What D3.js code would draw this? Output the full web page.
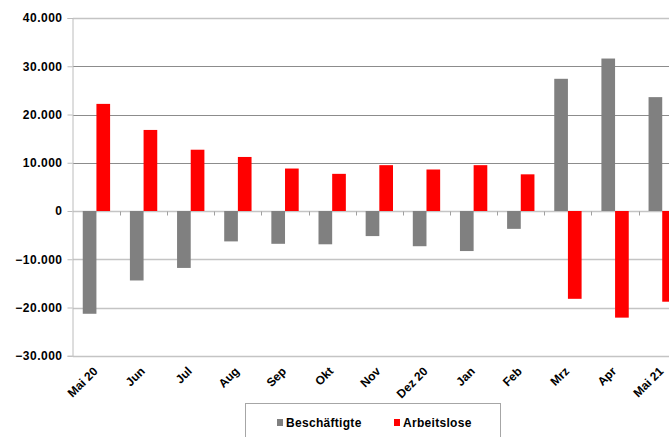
<!DOCTYPE html>
<html>
<head>
<meta charset="utf-8">
<script src="https://cdn.jsdelivr.net/npm/d3@7"></script>
<style>
  body { margin: 0; background: #fff; }
  text { font-family: Arial, "Liberation Sans", sans-serif; font-weight: bold; fill: #000; }
</style>
</head>
<body>
<div id="viz"></div>
<script>
const width = 669;
const height = 437;
const margin = {top: 18, left: 72.85, bottom: 355.75};
const bandStep = 47.15;

const colorEmployed = '#808080';
const colorUnemployed = '#ff0000';

// Data
const months = ['Mai 20', 'Jun', 'Jul', 'Aug', 'Sep', 'Okt', 'Nov', 'Dez 20', 'Jan', 'Feb', 'Mrz', 'Apr', 'Mai 21'];
const series = ['Beschäftigte', 'Arbeitslose'];
const employed = [-21300, -14400, -11800, -6300, -6800, -6900, -5200, -7300, -8300, -3700, 27400, 31600, 23600];
const unemployed = [22200, 16800, 12700, 11200, 8800, 7700, 9500, 8600, 9500, 7600, -18200, -22100, -18800];
const yTicks = [-30000, -20000, -10000, 0, 10000, 20000, 30000, 40000];

const data = months.map((m, i) => ({month: m, values: [employed[i], unemployed[i]]}));

const svg = d3.select('#viz')
  .append('svg')
    .attr('width', width)
    .attr('height', height);

// Scales
const xScale = d3.scaleBand()
  .domain(months)
  .range([margin.left, margin.left + months.length * bandStep])
  .padding(0);

const barWidth = xScale.bandwidth() * 0.29;
const xSeries = d3.scaleBand()
  .domain(series)
  .range([xScale.bandwidth() / 2 - barWidth, xScale.bandwidth() / 2 + barWidth]);

const yScale = d3.scaleLinear()
  .domain([-30000, 40000])
  .range([margin.bottom, margin.top]);

const fmt = d => d === 0 ? '0' : d3.format(',')(d).replace(/,/g, '.');

// Gridlines
svg.append('g')
    .attr('class', 'grid')
  .selectAll('line')
  .data(yTicks)
  .join('line')
    .attr('x1', margin.left)
    .attr('x2', width)
    .attr('y1', d => Math.round(yScale(d)) + 0.5)
    .attr('y2', d => Math.round(yScale(d)) + 0.5)
    .attr('stroke', d => (d > 0 && d < 40000) ? '#8c8c8c' : '#c4c4c4')
    .attr('stroke-width', d => (d > 0 && d < 40000) ? 1 : 1.5);

// Y axis
const yAxis = d3.axisLeft(yScale)
  .tickValues(yTicks)
  .tickSize(5)
  .tickPadding(5)
  .tickFormat(fmt);
const yAxisGroup = svg.append('g')
    .attr('class', 'y-axis')
    .attr('transform', `translate(${Math.round(margin.left) - 0.5},0)`)
    .call(yAxis);
yAxisGroup.select('.domain').attr('stroke', '#bcbcbc');
yAxisGroup.selectAll('.tick line').attr('stroke', '#bcbcbc');
yAxisGroup.selectAll('.tick text')
    .attr('font-size', 12)
    .attr('letter-spacing', 0.5)
    .attr('font-family', 'Arial, "Liberation Sans", sans-serif')
    .attr('font-weight', 'bold')
    .attr('fill', '#000');

// Category ticks below the zero line
const zeroY = Math.round(yScale(0)) + 0.5;
svg.append('g')
    .attr('class', 'x-ticks')
  .selectAll('line')
  .data(months.slice(1))
  .join('line')
    .attr('x1', d => Math.round(xScale(d)) + 0.5)
    .attr('x2', d => Math.round(xScale(d)) + 0.5)
    .attr('y1', zeroY)
    .attr('y2', zeroY + 4)
    .attr('stroke', '#a0a0a0');

// Bars
const colors = [colorEmployed, colorUnemployed];
svg.append('g')
    .attr('class', 'bars')
  .selectAll('g')
  .data(data)
  .join('g')
    .attr('transform', d => `translate(${xScale(d.month)},0)`)
  .selectAll('rect')
  .data(d => d.values.map((v, i) => ({series: series[i], value: v, color: colors[i]})))
  .join('rect')
    .attr('x', d => xSeries(d.series))
    .attr('width', xSeries.bandwidth())
    .attr('y', d => yScale(Math.max(0, d.value)))
    .attr('height', d => Math.abs(yScale(d.value) - yScale(0)))
    .attr('fill', d => d.color);

// X labels, rotated
svg.append('g')
    .attr('class', 'x-labels')
  .selectAll('text')
  .data(months)
  .join('text')
    .attr('transform', d => `translate(${xScale(d) + xScale.bandwidth() / 2 + 2},372) rotate(-45)`)
    .attr('text-anchor', 'end')
    .attr('font-size', 12)
    .text(d => d);

// Legend
const legend = svg.append('g').attr('class', 'legend');
legend.append('rect')
    .attr('x', 245.5)
    .attr('y', 403.5)
    .attr('width', 255)
    .attr('height', 40)
    .attr('fill', '#fff')
    .attr('stroke', '#a6a6a6');
const legendX = [277, 394];
series.forEach((s, i) => {
  legend.append('rect')
      .attr('x', legendX[i])
      .attr('y', 419)
      .attr('width', 6)
      .attr('height', 7)
      .attr('fill', colors[i]);
  legend.append('text')
      .attr('x', legendX[i] + 9)
      .attr('y', 427)
      .attr('font-size', 12)
      .attr('letter-spacing', 0.3)
      .text(s);
});
</script>
</body>
</html>
